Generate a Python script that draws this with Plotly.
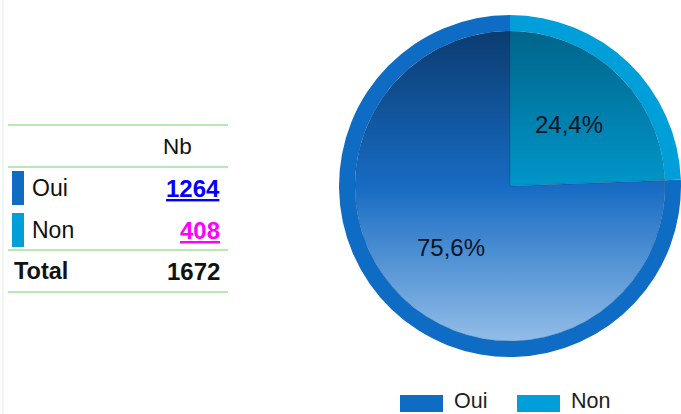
import numpy as np
import plotly.graph_objects as go

# ---- data ----
labels = ["Oui", "Non"]
values = [1264, 408]
total_label = "Total"
total_value = 1672
column_header = "Nb"
slice_colors = ["#0F6CC4", "#009FD9"]
value_colors = ["#0000FF", "#FF00FF"]
# inner gradient (bottom -> middle -> top) for each slice
grad_colors = [
    ["#92BDE7", "#176BC3", "#0B3C70"],
    ["#33B5E4", "#0096CA", "#00658A"],
]

W, H = 681, 414
FONT = "Liberation Sans, Arial, sans-serif"


def px(x):
    return x / W


def py(y):
    return 1 - y / H


# pie geometry (pixels)
cx, cy, R = 510, 186, 171
inner_ratio = 155 / 171
xdom = [px(cx - R), min(1.0, px(cx + R))]
ydom = [py(cy + R), py(cy - R)]

fig = go.Figure()
annotations = []

# inner gradient wedges built from the data (Oui starts at 12 o'clock, counterclockwise)
fracs = np.array(values, dtype=float) / sum(values)
start = 90.0
for i, f in enumerate(fracs):
    th = np.radians(np.linspace(start, start + 360 * f, 200))
    xs = np.concatenate([[0], inner_ratio * np.cos(th), [0]])
    ys = np.concatenate([[0], inner_ratio * np.sin(th), [0]])
    mid = np.radians(start + 180 * f)
    start += 360 * f
    g = grad_colors[i]
    fig.add_trace(go.Scatter(
        x=xs, y=ys, mode="lines", fill="toself",
        line=dict(width=0.6, color="rgba(20,40,70,0.35)"),
        fillgradient=dict(type="vertical", start=-inner_ratio, stop=inner_ratio,
                          colorscale=[[0, g[0]], [0.5, g[1]], [1, g[2]]]),
        hoverinfo="skip", showlegend=False,
    ))
    # percentage label at half radius on the slice bisector
    annotations.append(dict(
        text=f"{100 * f:.1f}%".replace(".", ","), x=0.5 * np.cos(mid), y=0.5 * np.sin(mid),
        xref="x", yref="y", xanchor="center", yanchor="middle", showarrow=False,
        font=dict(family=FONT, size=24, color="#0b1526")))

# clockwise layout rotated so that Oui ends at 12 o'clock (= counterclockwise from top)
rot = 360 * fracs[1]

# outer ring
fig.add_trace(go.Pie(
    labels=labels, values=values, sort=False, direction="clockwise", rotation=rot,
    hole=inner_ratio, marker=dict(colors=slice_colors, line=dict(width=0)),
    textinfo="none", hoverinfo="skip", showlegend=False,
    domain=dict(x=xdom, y=ydom),
))

shapes = []

# faint left border
shapes.append(dict(type="line", xref="paper", yref="paper", x0=px(3), x1=px(3),
                   y0=0, y1=1, line=dict(color="#EEF8EE", width=2)))

# table rules
for yy in [125, 167, 250, 292]:
    shapes.append(dict(type="line", xref="paper", yref="paper",
                       x0=px(8), x1=px(228), y0=py(yy), y1=py(yy),
                       line=dict(color="#9CE596", width=1.5)))

annotations.append(dict(text=column_header, x=px(177.5), y=py(146), xref="paper", yref="paper",
                        xanchor="center", yanchor="middle", showarrow=False,
                        font=dict(family=FONT, size=22.5, color="#111111")))

row_y = [188, 230]
for i, lab in enumerate(labels):
    shapes.append(dict(type="rect", xref="paper", yref="paper",
                       x0=px(12), x1=px(24), y0=py(row_y[i] + 17), y1=py(row_y[i] - 17),
                       fillcolor=slice_colors[i], line=dict(width=0)))
    annotations.append(dict(text=lab, x=px(30), y=py(row_y[i]), xref="paper", yref="paper",
                            xanchor="left", yanchor="middle", showarrow=False,
                            font=dict(family=FONT, size=23, color="#111111")))
    annotations.append(dict(text=f"<b><u>{values[i]}</u></b>", x=px(222), y=py(row_y[i]),
                            xref="paper", yref="paper", xanchor="right", yanchor="middle",
                            showarrow=False,
                            font=dict(family=FONT, size=24, color=value_colors[i])))

annotations.append(dict(text=f"<b>{total_label}</b>", x=px(12), y=py(271), xref="paper", yref="paper",
                        xanchor="left", yanchor="middle", showarrow=False,
                        font=dict(family=FONT, size=23.5, color="#111111")))
annotations.append(dict(text=f"<b>{total_value}</b>", x=px(222), y=py(271), xref="paper", yref="paper",
                        xanchor="right", yanchor="middle", showarrow=False,
                        font=dict(family=FONT, size=24, color="#111111")))

# custom legend
leg_x = [400, 517]
for i, lab in enumerate(labels):
    shapes.append(dict(type="rect", xref="paper", yref="paper",
                       x0=px(leg_x[i]), x1=px(leg_x[i] + 43), y0=py(412), y1=py(395),
                       fillcolor=slice_colors[i], line=dict(width=0)))
    annotations.append(dict(text=lab, x=px(leg_x[i] + 52), y=py(401), xref="paper", yref="paper",
                            xanchor="left", yanchor="middle", showarrow=False,
                            font=dict(family=FONT, size=21.5, color="#222222")))

fig.update_layout(
    width=W, height=H, margin=dict(l=0, r=0, t=0, b=0),
    paper_bgcolor="white", plot_bgcolor="rgba(0,0,0,0)",
    showlegend=False,
    xaxis=dict(domain=xdom, range=[-1, 1], visible=False, fixedrange=True),
    yaxis=dict(domain=ydom, range=[-1, 1], visible=False, fixedrange=True),
    shapes=shapes, annotations=annotations,
)

fig.write_html("out.html", config={"displayModeBar": False},
               post_script="document.body.style.margin='0';")
